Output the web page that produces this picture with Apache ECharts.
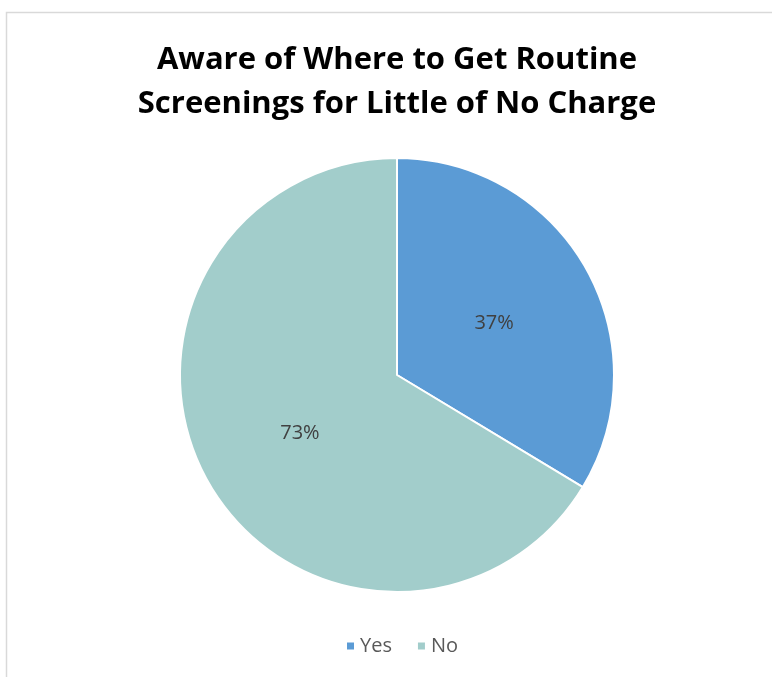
<!DOCTYPE html>
<html><head><meta charset="utf-8">
<script src="https://cdn.jsdelivr.net/npm/echarts@6/dist/echarts.min.js"></script>
<style>html,body{margin:0;padding:0;background:#fff}#c{width:772px;height:677px}</style>
</head><body><div id="c"></div>
<script>
const titleLines = ["Aware of Where to Get Routine", "Screenings for Little of No Charge"];
const categories = ["Yes", "No"];
const values = [37, 73];
const colors = ["#5B9BD5", "#A2CDCB"];

const chart = echarts.init(document.getElementById('c'), null, {renderer: 'canvas'});
chart.setOption({
  backgroundColor: '#fff',
  animation: false,
  graphic: [{
    type: 'rect', silent: true,
    shape: {x: 6.5, y: 12.5, width: 900, height: 900},
    style: {fill: 'none', stroke: '#D9D9D9', lineWidth: 1.5}
  }],
  title: {
    text: titleLines.join('\n'),
    left: 392, textAlign: 'center', top: 33,
    textStyle: {fontFamily: 'Open Sans', fontWeight: 'bold', fontSize: 31, lineHeight: 44, color: '#000'}
  },
  legend: {
    data: categories, bottom: 16, left: 340,
    icon: 'rect', itemWidth: 9, itemHeight: 9, itemGap: 24,
    textStyle: {fontFamily: 'Open Sans', fontSize: 20, color: '#595959'}
  },
  series: [{
    type: 'pie', center: [397, 375], radius: 217, startAngle: 90, clockwise: true,
    data: categories.map((c, i) => ({name: c, value: values[i], itemStyle: {color: colors[i]}})),
    itemStyle: {borderColor: '#fff', borderWidth: 2},
    label: {position: 'inside', formatter: p => p.value + '%', fontFamily: 'Open Sans', fontSize: 20, color: '#404040', offset: [0, 3]},
    labelLine: {show: false},
    emphasis: {disabled: true}
  }]
});
</script></body></html>
